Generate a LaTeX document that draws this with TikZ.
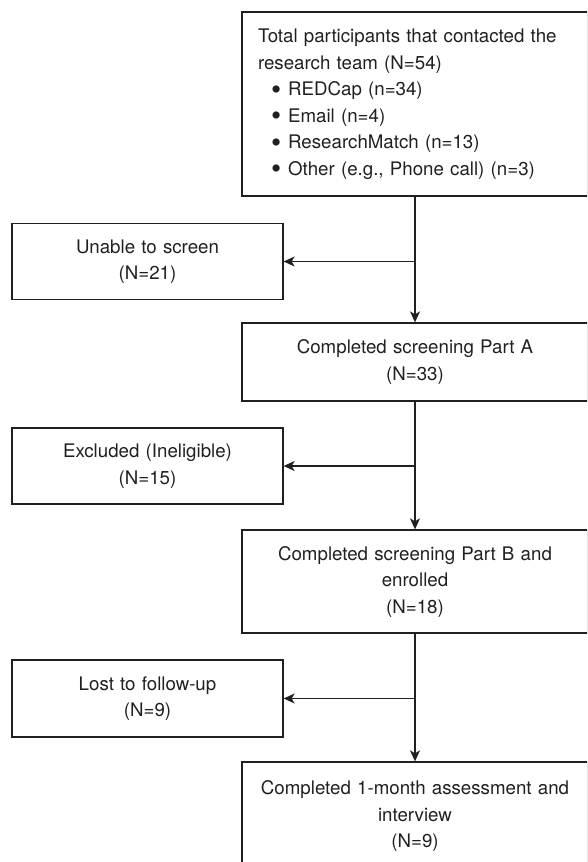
\documentclass[tikz,border=0pt]{standalone}
\usepackage{fontspec}
\setmainfont{TeX Gyre Heros}
\usetikzlibrary{arrows.meta}
\definecolor{ink}{HTML}{231F20}
\newcommand{\bigbul}{\hspace*{13pt}\raisebox{-3.8pt}{\scalebox{1.55}{•}}\hspace{7pt}}
\tikzset{
  base/.style={draw=ink, line width=1.3pt, text=ink, inner xsep=8pt, inner ysep=0pt, align=center},
  rbox/.style={base, text width=330pt, minimum width=346pt},
  lbox/.style={base, text width=255pt, minimum width=271pt},
  arr/.style={draw=ink, line width=1.3pt, -{Stealth[length=11pt, width=10pt, inset=3pt]}},
}
\begin{document}
\begin{tikzpicture}[x=1pt, y=-1pt, font=\fontsize{18.7}{26.5}\selectfont]
\useasboundingbox (0,0) rectangle (587,862);
\clip (0,0) rectangle (587,862);
\node[rbox, align=left, text width=314pt, inner xsep=16pt, minimum height=184pt] (total) at (415,104)
 {Total participants that contacted the\\
  research team (N=54)\\
  \bigbul REDCap (n=34)\\
  \bigbul Email (n=4)\\
  \bigbul ResearchMatch (n=13)\\
  \bigbul Other (e.g., Phone call) (n=3)};
\node[lbox, minimum height=76pt] (unable) at (147.5,261.5) {Unable to screen\\(N=21)};
\node[rbox, minimum height=78pt] (parta) at (415,362) {Completed screening Part A\\(N=33)};
\node[lbox, minimum height=76pt] (excl) at (147.5,466) {Excluded (Ineligible)\\(N=15)};
\node[rbox, minimum height=103pt] (partb) at (415,581.5) {Completed screening Part B and\\enrolled\\(N=18)};
\node[lbox, minimum height=77pt] (lost) at (147.5,698.5) {Lost to follow-up\\(N=9)};
\node[rbox, minimum height=108pt] (final) at (415,816) {Completed 1-month assessment and\\interview\\(N=9)};
\draw[arr] (total.south) -- (parta.north);
\draw[arr] (total.south |- unable.east) -- (unable.east);
\draw[arr] (parta.south) -- (partb.north);
\draw[arr] (parta.south |- excl.east) -- (excl.east);
\draw[arr] (partb.south) -- (final.north);
\draw[arr] (partb.south |- lost.east) -- (lost.east);
\end{tikzpicture}
\end{document}
